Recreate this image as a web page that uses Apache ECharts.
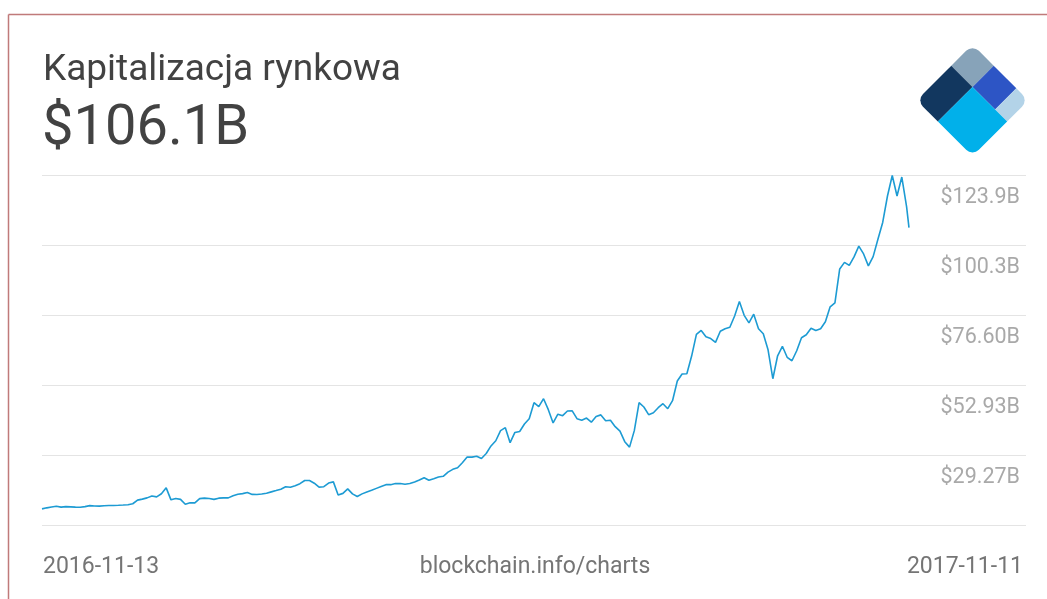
<!DOCTYPE html>
<html><head><meta charset="utf-8">
<script src="https://cdn.jsdelivr.net/npm/echarts@6/dist/echarts.min.js"></script>
<style>html,body{margin:0;padding:0;background:#fff}#c{width:1047px;height:599px}</style>
</head><body><div id="c"></div>
<script>
// ---- data ----
const titleText = 'Kapitalizacja rynkowa';
const currentValue = '$106.1B';
const sourceText = 'blockchain.info/charts';
const startDate = '2016-11-13';
const endDate = '2017-11-11';
const stepDays = 2;
// market cap in billions USD, every 2 days from startDate
const marketCap = [
  11.07, 11.41, 11.68, 11.95, 11.65, 11.82, 11.75, 11.65, 11.61, 11.82,
  12.15, 12.05, 11.98, 12.12, 12.19, 12.22, 12.28, 12.35, 12.45, 12.79,
  14.01, 14.35, 14.78, 15.42, 15.12, 16.16, 18.17, 14.11, 14.55, 14.28,
  12.62, 13.10, 13.10, 14.52, 14.68, 14.55, 14.28, 14.68, 14.78, 14.78,
  15.52, 16.03, 16.21, 16.57, 15.96, 15.90, 16.10, 16.37, 16.81, 17.25,
  17.72, 18.53, 18.39, 18.90, 19.57, 20.65, 20.65, 19.74, 18.42, 18.56,
  19.78, 20.18, 15.73, 16.30, 17.82, 16.13, 15.22, 16.13, 16.77, 17.32,
  17.99, 18.66, 19.24, 19.24, 19.61, 19.64, 19.37, 19.61, 20.15, 20.79,
  21.60, 20.72, 21.26, 21.84, 22.07, 23.48, 24.43, 24.97, 26.67, 28.59,
  28.55, 28.82, 28.08, 29.77, 32.33, 34.09, 37.53, 38.51, 33.45, 36.89,
  37.23, 39.76, 41.52, 46.95, 45.60, 48.30, 44.59, 40.10, 43.07, 42.56,
  44.15, 44.21, 41.55, 41.04, 41.75, 40.37, 42.32, 42.83, 40.84, 41.01,
  38.85, 37.33, 33.78, 31.93, 37.50, 46.95, 45.49, 42.90, 43.57, 45.26,
  46.61, 44.92, 47.62, 54.27, 56.63, 56.73, 62.71, 70.03, 71.38, 69.22,
  68.61, 67.33, 71.11, 71.92, 72.43, 76.27, 81.14, 76.48, 73.95, 76.88,
  71.92, 70.23, 64.83, 55.05, 62.81, 66.02, 62.30, 61.12, 64.50, 68.89,
  69.90, 72.09, 71.38, 71.96, 74.29, 79.35, 80.70, 92.17, 94.37, 93.35,
  96.22, 99.87, 97.23, 93.19, 96.32, 102.20, 107.87, 116.81, 123.73, 116.81,
  123.22, 113.23
];
const lastValue = 106.1; // value on endDate
const yMin = 5.61;
const yStep = 23.66;
const yTickLabels = ['', '$29.27B', '$52.93B', '$76.60B', '$100.3B', '$123.9B'];

// ---- build ----
const DAY = 86400000;
const t0 = Date.parse(startDate + 'T00:00:00Z');
const tEnd = Date.parse(endDate + 'T00:00:00Z');
const points = marketCap.map((v, i) => [t0 + i * stepDays * DAY, v]);
points.push([tEnd, lastValue]);

const chart = echarts.init(document.getElementById('c'), null, {renderer: 'canvas'});
const FONT = 'Roboto, "Noto Sans", sans-serif';
const S = 79, A = 30, B = 62, R = 9;

chart.setOption({
  animation: false,
  useUTC: true,
  backgroundColor: '#ffffff',
  grid: {left: 42, right: 21, top: 175, bottom: 74},
  xAxis: {
    type: 'time',
    min: t0,
    max: Date.parse('2017-12-30T00:00:00Z'),
    axisLine: {show: false}, axisTick: {show: false},
    axisLabel: {show: false}, splitLine: {show: false}
  },
  yAxis: {
    type: 'value',
    position: 'right',
    min: yMin,
    max: yMin + 5 * yStep,
    interval: yStep,
    axisLine: {show: false}, axisTick: {show: false},
    splitLine: {lineStyle: {color: '#e4e4e4', width: 1}},
    axisLabel: {
      inside: true,
      margin: 6,
      color: '#a9a9a9',
      fontSize: 21.5,
      fontFamily: FONT,
      verticalAlign: 'top',
      padding: [12, 0, 0, 0],
      formatter: v => yTickLabels[Math.round((v - yMin) / yStep)] || ''
    }
  },
  series: [{
    type: 'line',
    data: points,
    showSymbol: false,
    lineStyle: {color: '#1d9bd3', width: 1.6},
    silent: true
  }],
  graphic: [
    {type: 'line', shape: {x1: 8.5, y1: 14.5, x2: 1047, y2: 14.5}, style: {stroke: '#c07a7a', lineWidth: 1.5}},
    {type: 'line', shape: {x1: 8.5, y1: 14.5, x2: 8.5, y2: 599}, style: {stroke: '#c07a7a', lineWidth: 1.5}},
    {type: 'text', x: 43, y: 71, style: {text: titleText, fontSize: 37, fontFamily: FONT, fill: '#424242', verticalAlign: 'middle'}},
    {type: 'text', x: 42, y: 130, style: {text: currentValue, fontSize: 56, fontFamily: FONT, fill: '#424242', verticalAlign: 'middle'}},
    {type: 'text', x: 43, y: 567, style: {text: startDate, fontSize: 23, fontFamily: FONT, fill: '#757575', verticalAlign: 'middle'}},
    {type: 'text', x: 535, y: 567, style: {text: sourceText, fontSize: 23, fontFamily: FONT, fill: '#757575', align: 'center', verticalAlign: 'middle'}},
    {type: 'text', x: 1023, y: 567, style: {text: endDate, fontSize: 23, fontFamily: FONT, fill: '#757575', align: 'right', verticalAlign: 'middle'}},
    {
      type: 'group', x: 972.5, y: 44.5, rotation: -Math.PI / 4,
      children: [
        {type: 'rect', shape: {x: 0, y: 0, width: A, height: A, r: [R, 0, 0, 0]}, style: {fill: '#87a3b9'}},
        {type: 'rect', shape: {x: A, y: 0, width: B - A, height: A}, style: {fill: '#2d55c5'}},
        {type: 'rect', shape: {x: B, y: 0, width: S - B, height: A, r: [0, R, 0, 0]}, style: {fill: '#b3d3e8'}},
        {type: 'rect', shape: {x: 0, y: A, width: A, height: S - A, r: [0, 0, 0, R]}, style: {fill: '#12375f'}},
        {type: 'rect', shape: {x: A, y: A, width: S - A, height: S - A, r: [0, 0, R, 0]}, style: {fill: '#01b0ea'}}
      ]
    }
  ]
});
</script>
</body></html>
